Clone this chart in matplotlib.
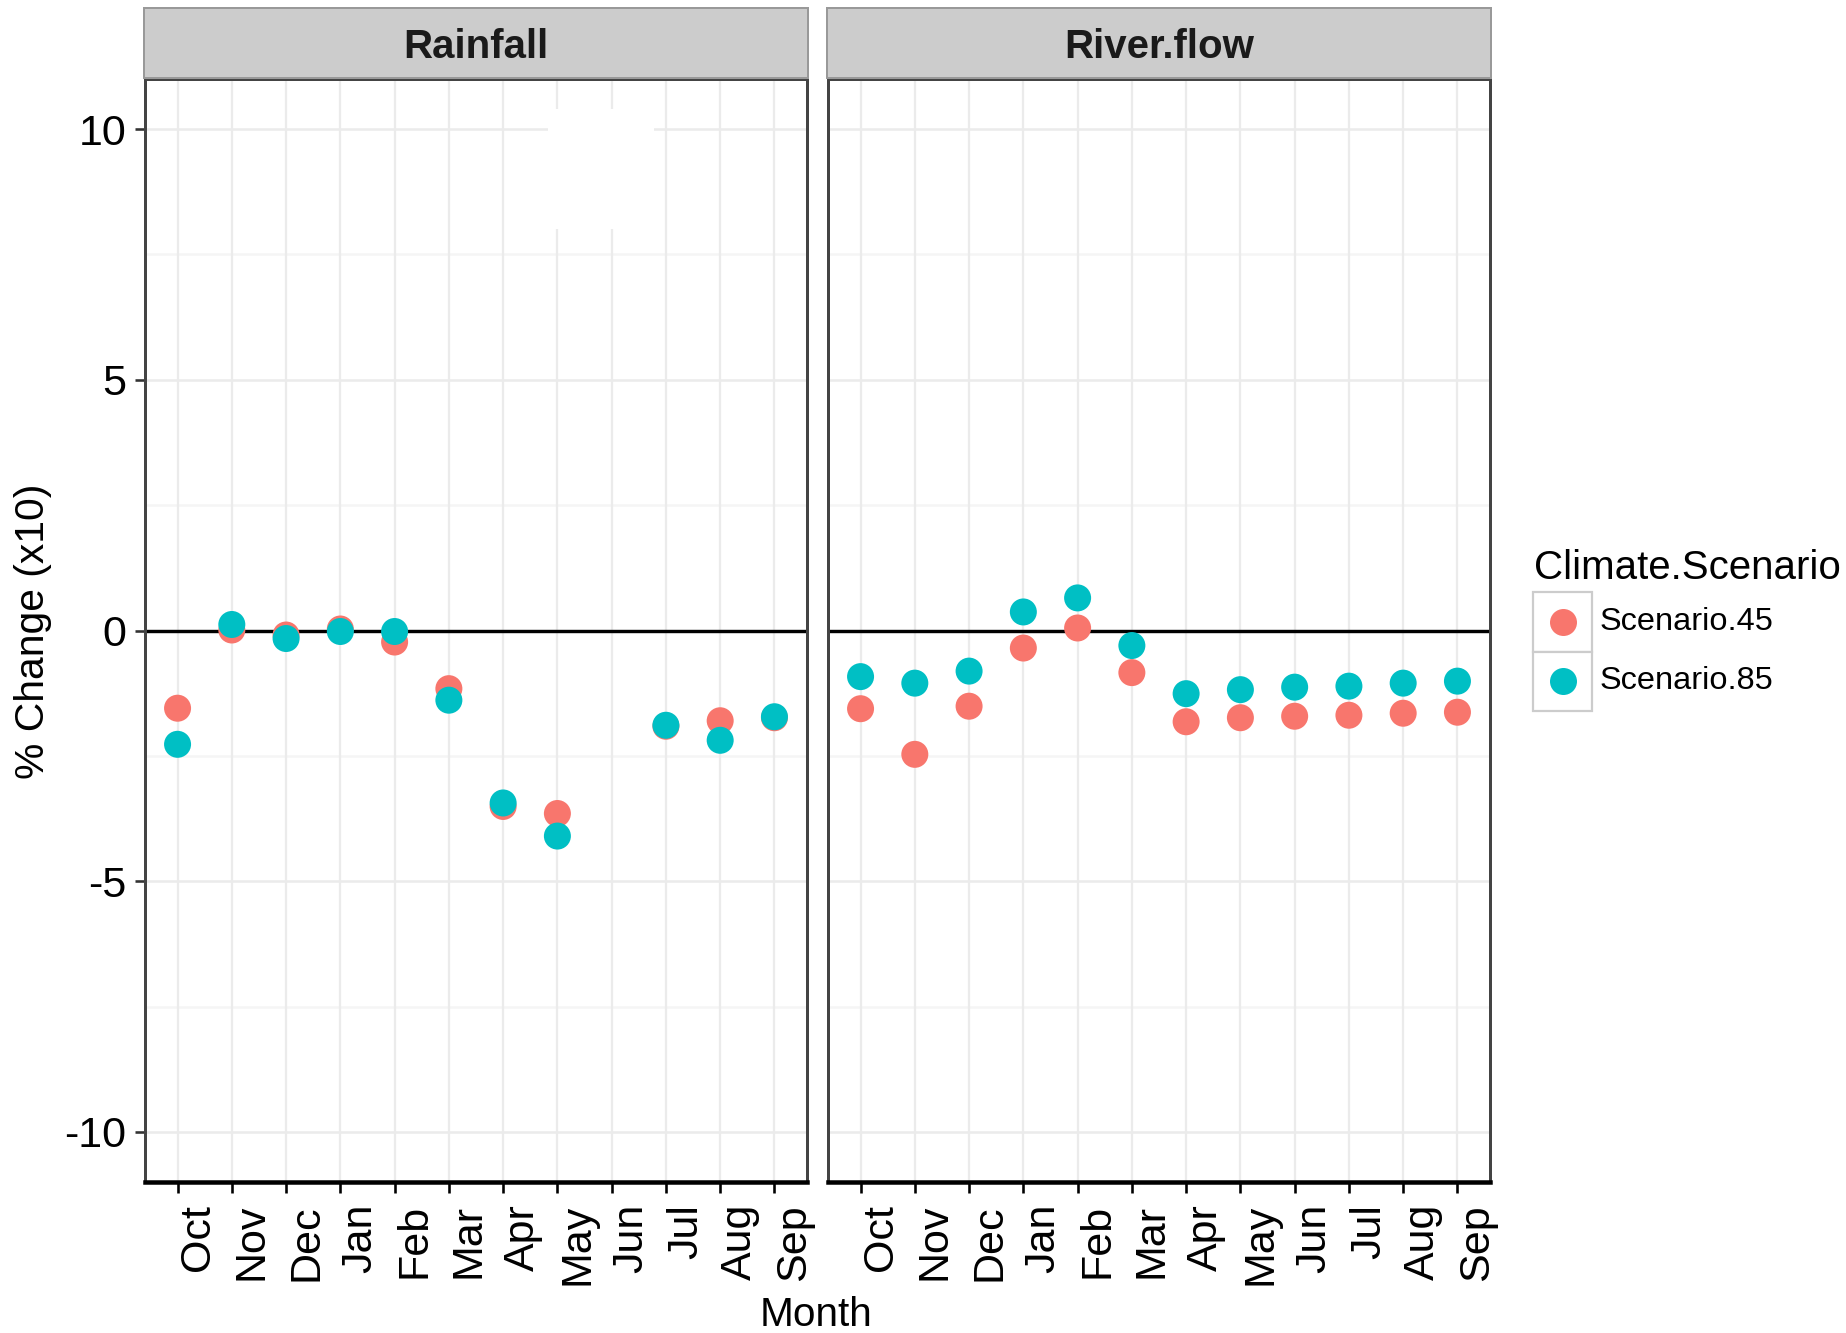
import numpy as np
import matplotlib.pyplot as plt
from matplotlib.patches import Rectangle
from matplotlib.lines import Line2D

plt.rcParams['font.family'] = ['Liberation Sans', 'DejaVu Sans']

months = ['Oct', 'Nov', 'Dec', 'Jan', 'Feb', 'Mar', 'Apr', 'May', 'Jun', 'Jul', 'Aug', 'Sep']
panels = ['Rainfall', 'River.flow']
scenarios = ['Scenario.45', 'Scenario.85']
colors = ['#F8766D', '#00BFC4']

rain_45 = [-1.55, 0.01, -0.09, 0.03, -0.23, -1.16, -3.51, -3.65, np.nan, -1.91, -1.80, -1.74]
rain_85 = [-2.27, 0.12, -0.16, -0.02, -0.02, -1.39, -3.44, -4.10, np.nan, -1.89, -2.19, -1.72]
flow_45 = [-1.56, -2.47, -1.51, -0.35, 0.05, -0.84, -1.82, -1.74, -1.71, -1.69, -1.65, -1.63]
flow_85 = [-0.92, -1.05, -0.81, 0.37, 0.65, -0.30, -1.26, -1.18, -1.13, -1.11, -1.05, -1.01]

y_ticks = [-10, -5, 0, 5, 10]
y_minor = [-7.5, -2.5, 2.5, 7.5]

W, H = 1846, 1333
DPI = 200


def fx(px):
    return px / W


def fy(py):
    return 1 - py / H


def pt(px):
    # pixel length -> points
    return px * 72 / DPI


fig = plt.figure(figsize=(W / DPI, H / DPI), dpi=DPI)

panel_lefts = [145, 828]
panel_w = 662
panel_top, panel_bot = 79, 1182
strip_top, strip_bot = 8, 78

x = np.arange(1, len(months) + 1)
data = {'Rainfall': (rain_45, rain_85), 'River.flow': (flow_45, flow_85)}

axes = []
for i, name in enumerate(panels):
    left = panel_lefts[i]
    ax = fig.add_axes([fx(left), fy(panel_bot), fx(panel_w), (panel_bot - panel_top) / H])
    axes.append(ax)
    ax.set_xlim(0.4, 12.6)
    ax.set_ylim(-11, 11)

    # grid
    for v in y_minor:
        ax.axhline(v, color='#F5F5F5', lw=pt(2.5), zorder=0)
    for v in y_ticks:
        ax.axhline(v, color='#EBEBEB', lw=pt(2.5), zorder=0.5)
    for xv in x:
        ax.axvline(xv, color='#EBEBEB', lw=pt(2.2), zorder=0.5)

    if name == 'Rainfall':
        # blank patch over the grid in the upper part of the panel
        ax.add_patch(Rectangle((7.83, 8.0), 1.95, 2.41, facecolor='white',
                               edgecolor='none', zorder=1))

    ax.axhline(0, color='black', lw=pt(3.4), zorder=2)

    for vals, col in zip(data[name], colors):
        ax.scatter(x, vals, s=pt(27) ** 2, color=col, edgecolors='none', zorder=3)

    ax.set_xticks(x)
    ax.set_xticklabels(months, rotation=90, ha='left', va='top', fontsize=15.5)
    ax.tick_params(axis='x', length=pt(11), width=pt(2.6), pad=pt(11), color='black')
    if i == 0:
        ax.set_yticks(y_ticks)
        ax.set_yticklabels([str(v) for v in y_ticks], fontsize=15.5)
        ax.tick_params(axis='y', length=pt(10), width=pt(2.6), pad=pt(9), color='#333333')
    else:
        ax.set_yticks([])

    for side in ['left', 'right', 'top']:
        ax.spines[side].set_color('#444444')
        ax.spines[side].set_linewidth(pt(3))
    ax.spines['bottom'].set_color('black')
    ax.spines['bottom'].set_linewidth(pt(4.5))

    # facet strip
    sax = fig.add_axes([fx(left - 1), fy(strip_bot), fx(panel_w + 2), (strip_bot - strip_top) / H])
    sax.set_xticks([])
    sax.set_yticks([])
    sax.set_facecolor('#CCCCCC')
    for s in sax.spines.values():
        s.set_color('#999999')
        s.set_linewidth(pt(2))
    sax.text(0.5, 0.45, name, transform=sax.transAxes, ha='center', va='center',
             fontsize=14.5, fontweight='bold', color='#1A1A1A')

fig.text(fx(33), fy(631), '% Change (x10)', rotation=90, ha='center', va='center', fontsize=14.7)
fig.text(fx(816), fy(1326), 'Month', ha='center', va='baseline', fontsize=14.6)

# legend
fig.text(fx(1534), fy(579), 'Climate.Scenario', ha='left', va='baseline', fontsize=14.5)
key_top = 592
key_h = 59.5
for j, (lab, col) in enumerate(zip(scenarios, colors)):
    ky = key_top + j * key_h
    fig.add_artist(Rectangle((fx(1533), fy(ky + key_h)), fx(59), key_h / H,
                             transform=fig.transFigure, facecolor='white',
                             edgecolor='#CCCCCC', lw=pt(2.2)))
    cy = ky + key_h / 2
    fig.add_artist(Line2D([fx(1563)], [fy(cy)], transform=fig.transFigure, marker='o',
                          markersize=pt(27), color=col, markeredgewidth=0, linestyle='none'))
    fig.text(fx(1600), fy(cy), lab, ha='left', va='center', fontsize=11.7)

fig.savefig('out.png', dpi=DPI)
plt.close(fig)
